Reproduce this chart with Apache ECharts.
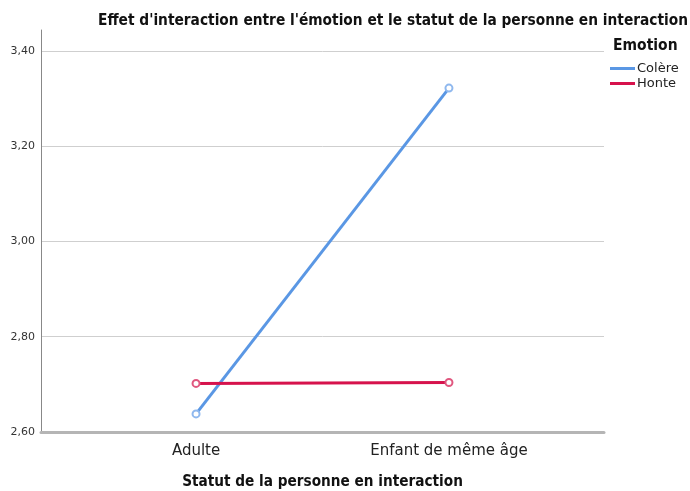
<!DOCTYPE html>
<html>
<head>
<meta charset="utf-8">
<script src="https://cdn.jsdelivr.net/npm/echarts@6/dist/echarts.min.js"></script>
<style>
  html, body { margin: 0; padding: 0; background: #fff; }
  #chart { width: 690px; height: 491px; }
</style>
</head>
<body>
<div id="chart"></div>
<script type="text/javascript">
// data
var categories = ['Adulte', 'Enfant de même âge'];
var colere = [2.638, 3.322];
var honte = [2.702, 2.704];
var yTicks = [2.6, 2.8, 3.0, 3.2, 3.4];

var chart = echarts.init(document.getElementById('chart'));
var font = 'DejaVu Sans';
var boldFont = 'DejaVu Sans Condensed';

function pts(arr) {
  return arr.map(function (v, i) { return [i, v]; });
}

var option = {
  animation: false,
  textStyle: { fontFamily: font },
  title: [
    {
      text: "Effet d'interaction entre l'émotion et le statut de la personne en interaction",
      right: 2,
      top: 14,
      padding: 0,
      textStyle: { fontSize: 15.3, fontWeight: 'bold', color: '#111', fontFamily: boldFont }
    },
    {
      text: 'Emotion',
      left: 613,
      top: 38,
      padding: 0,
      textStyle: { fontSize: 15.5, fontWeight: 'bold', color: '#111', fontFamily: boldFont }
    }
  ],
  legend: {
    orient: 'vertical',
    left: 610,
    top: 62,
    padding: 0,
    icon: 'rect',
    itemWidth: 25,
    itemHeight: 3,
    itemGap: 2,
    textStyle: { fontSize: 13, color: '#222', fontFamily: font, padding: [0, 0, 0, -3] },
    data: [
      { name: 'Colère', itemStyle: { color: '#5a97e4', borderWidth: 0 } },
      { name: 'Honte', itemStyle: { color: '#d6124c', borderWidth: 0 } }
    ]
  },
  grid: { left: 41, right: 86, top: 30, bottom: 59, outerBoundsMode: 'none' },
  xAxis: {
    type: 'value',
    min: -0.613,
    max: 1.613,
    name: 'Statut de la personne en interaction',
    nameLocation: 'middle',
    nameGap: 43,
    nameTextStyle: { fontSize: 15.2, fontWeight: 'bold', color: '#111', fontFamily: boldFont },
    axisLine: { show: true, onZero: false, lineStyle: { color: '#b5b5b5', width: 3 } },
    axisTick: { show: false },
    splitLine: { show: false },
    axisLabel: {
      customValues: [0, 1],
      fontSize: 15,
      color: '#222',
      margin: 12,
      formatter: function (v) { return categories[Math.round(v)]; }
    }
  },
  yAxis: {
    type: 'value',
    min: 2.6,
    max: 3.444,
    axisLine: { show: true, onZero: false, lineStyle: { color: '#888', width: 1 } },
    axisTick: { show: false },
    splitLine: { show: true, showMaxLine: false, lineStyle: { color: '#cfcfcf', width: 1 } },
    axisLabel: {
      customValues: yTicks,
      fontSize: 11,
      color: '#333',
      margin: 6,
      formatter: function (v) { return v.toFixed(2).replace('.', ','); }
    }
  },
  series: [
    {
      name: 'Colère',
      type: 'line',
      data: pts(colere),
      color: '#5a97e4',
      symbol: 'emptyCircle',
      symbolSize: 7,
      lineStyle: { width: 3, color: '#5a97e4' },
      itemStyle: { color: '#8fb8ee', borderWidth: 1.2 }
    },
    {
      name: 'Honte',
      type: 'line',
      data: pts(honte),
      color: '#d6124c',
      symbol: 'emptyCircle',
      symbolSize: 7,
      lineStyle: { width: 3, color: '#d6124c' },
      itemStyle: { color: '#e0577f', borderWidth: 1.2 }
    }
  ]
};
chart.setOption(option);
</script>
</body>
</html>
